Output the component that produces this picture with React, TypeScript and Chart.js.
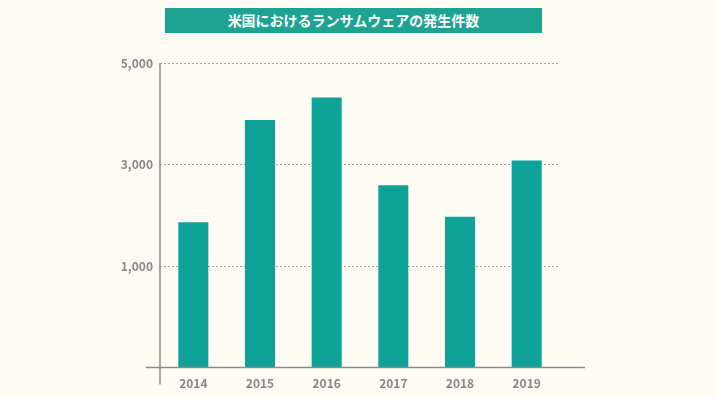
import React, { useEffect, useRef } from "react";
import { Chart, registerables } from "chart.js";

Chart.register(...registerables);

const titleText = "米国におけるランサムウェアの発生件数";
const categories = ["2014", "2015", "2016", "2017", "2018", "2019"];
const incidents = [1860, 3875, 4320, 2590, 1970, 3080];
const yMin = -1000;
const yMax = 5000;
const yStep = 2000;

const BG = "#fffcf4";
const BAR = "#0ea298";
const TITLE_BG = "#1ea393";
const AXIS = "#8a8a8a";
const TEXT = "#878787";

const axisPlugin = {
  id: "customAxes",
  afterDatasetsDraw(chart: any) {
    const { ctx, chartArea } = chart;
    const { left, right, bottom, top } = chartArea;
    ctx.save();
    ctx.strokeStyle = AXIS;
    ctx.lineWidth = 1.5;
    ctx.beginPath();
    ctx.moveTo(left - 14, bottom);
    ctx.lineTo(right + 25, bottom);
    ctx.moveTo(left, top);
    ctx.lineTo(left, bottom + 17);
    ctx.stroke();
    ctx.restore();
  },
};

export default function App() {
  const ref = useRef<HTMLCanvasElement>(null);
  useEffect(() => {
    document.body.style.margin = "0";
    document.body.style.background = BG;
    const chart = new Chart(ref.current!, {
      type: "bar",
      data: {
        labels: categories,
        datasets: [
          {
            data: incidents,
            backgroundColor: BAR,
            base: yMin,
            barPercentage: 0.45,
            categoryPercentage: 1,
          } as any,
        ],
      },
      options: {
        animation: false,
        responsive: false,
        layout: { padding: { top: 63, right: 157, left: 0, bottom: 0 } },
        plugins: { legend: { display: false }, tooltip: { enabled: false } },
        scales: {
          x: {
            grid: { display: false, drawTicks: false },
            border: { display: false },
            ticks: {
              padding: 9,
              color: TEXT,
              font: { family: "'Noto Sans CJK JP', 'Noto Sans'", size: 12, weight: "bold" },
            },
            afterFit(scale: any) {
              scale.height = 30.5;
            },
          },
          y: {
            min: yMin,
            max: yMax,
            border: { display: false, dash: [2, 2] },
            grid: {
              drawTicks: false,
              color: (c: any) => (c.tick && c.tick.value === yMin ? "rgba(0,0,0,0)" : "#a3a3a3"),
              lineWidth: 1,
            },
            ticks: {
              stepSize: yStep,
              padding: 7,
              color: TEXT,
              font: { family: "'Noto Sans CJK JP', 'Noto Sans'", size: 12, weight: "bold" },
              callback: (v: any) => (v === yMin ? "" : Number(v).toLocaleString("en-US")),
            },
            afterFit(scale: any) {
              scale.width = 160;
            },
          },
        },
      } as any,
      plugins: [axisPlugin],
    });
    return () => chart.destroy();
  }, []);

  return (
    <div style={{ position: "relative", width: 717, height: 398, background: BG, overflow: "hidden" }}>
      <div
        style={{
          position: "absolute",
          left: 165,
          top: 8,
          width: 377,
          height: 25,
          background: TITLE_BG,
          color: "#ffffff",
          fontFamily: "'Noto Sans CJK JP', sans-serif",
          fontWeight: 700,
          fontSize: 14,
          lineHeight: "25px",
          textAlign: "center",
        }}
      >
        {titleText}
      </div>
      <canvas ref={ref} width={717} height={398} style={{ display: "block" }} />
    </div>
  );
}
